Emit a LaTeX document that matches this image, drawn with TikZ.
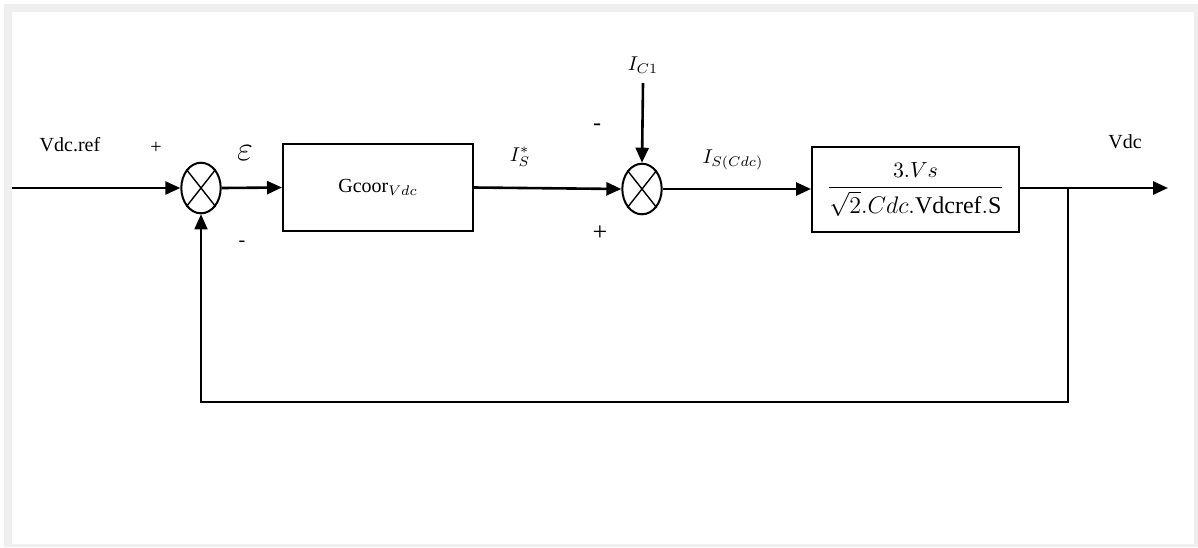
\documentclass[tikz,border=0pt]{standalone}
\usepackage{amsmath}
\usepackage{fontspec}
\setmainfont{Liberation Serif}
\usetikzlibrary{arrows.meta, shapes.geometric}

\definecolor{framegray}{HTML}{EFEFEF}

\tikzset{
  sumnode/.style={draw, ellipse, line width=1pt, minimum width=19.7pt, minimum height=25.3pt, inner sep=0pt},
  blockbox/.style={draw, rectangle, line width=1pt, inner sep=0pt},
  sig/.style={line width=1.3pt, -{Triangle[length=7.5pt,width=6.5pt]}},
  fb/.style={line width=0.9pt, -{Triangle[length=7.5pt,width=6.5pt]}},
  lbl/.style={inner sep=0pt, font=\fontsize{10}{12}\selectfont},
}

\begin{document}
\begin{tikzpicture}[x=0.5pt,y=-0.5pt]
    \useasboundingbox (0,0) rectangle (1198,547);
    \fill[framegray] (4,4) rectangle (1198,547);
    \fill[white] (12,12) rectangle (1194,544);

    \node[sumnode] (sum1) at (201,188) {};
    \node[blockbox, minimum width=95pt, minimum height=43.5pt] (gain) at (378,187.5)
        {\fontsize{10}{12}\selectfont Gcoor$_{Vdc}$};
    \node[sumnode] (sum2) at (642,189) {};
    \node[blockbox, minimum width=103.5pt, minimum height=42.5pt] (plant) at (915.5,189.5)
        {\fontsize{12}{14}\selectfont $\dfrac{\text{\fontsize{10.5}{12}\selectfont $3.Vs$}}{\sqrt{2}.Cdc.\mathrm{Vdcref}.\mathrm{S}}$};
    \foreach \s in {sum1,sum2}
        \draw[line width=0.7pt] (\s.north west) -- (\s.south east) (\s.north east) -- (\s.south west);

    \coordinate (in) at (12,188);
    \coordinate (out) at (1168,188);
    \coordinate (branch) at (1068,188);
    \coordinate (fbcorner) at (201,402);

    \node[inner sep=1pt] (ic) at (643,65) {$I_{C1}$};
    \coordinate (ictop) at (643,83);

    \draw[sig] (in) -- (sum1.west);
    \draw[sig] (sum1.east) -- (gain.west);
    \draw[sig] (gain.east) -- (sum2.west);
    \draw[sig] (sum2.east) -- (plant.west |- sum2.east);
    \draw[sig] (plant.east |- out) -- (out);
    \draw[sig] (ictop) -- (sum2.north);
    \draw[fb] (branch) |- (fbcorner) -- (sum1.south);

    \node[lbl] (vref) at (70,145) {Vdc.ref};
    \node[lbl] (p1) at (156,148) {+};
    \node[inner sep=0pt] (eps) at (245,153) {\fontsize{16}{18}\selectfont $\varepsilon$};
    \node[lbl] (m1) at (242,244) {-};
    \node[inner sep=0pt] (isref) at (520,157) {$I_S^*$};
    \node[lbl, font=\fontsize{12}{14}\selectfont] (m2) at (597,127) {-};
    \node[lbl, font=\fontsize{13}{14}\selectfont] (p2) at (600,233) {+};
    \node[inner sep=0pt] (iscdc) at (733,160) {$I_{S(Cdc)}$};
    \node[lbl] (vdc) at (1125,142) {Vdc};
\end{tikzpicture}
\end{document}
